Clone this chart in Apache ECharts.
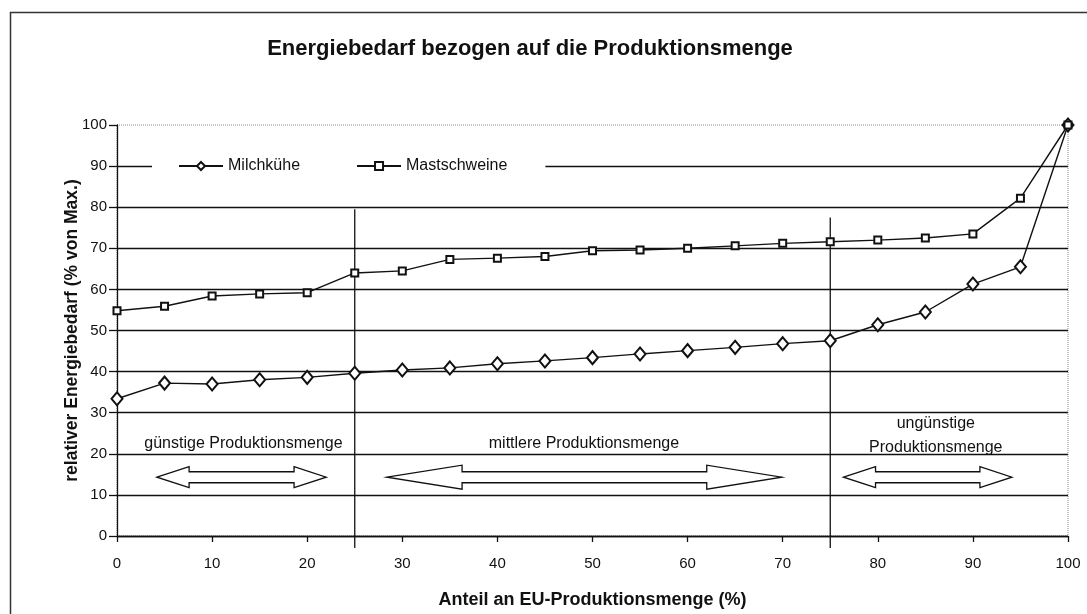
<!DOCTYPE html>
<html>
<head>
<meta charset="utf-8">
<script src="https://cdn.jsdelivr.net/npm/echarts@6/dist/echarts.min.js"></script>
<style>
html,body{margin:0;padding:0;background:#fff;overflow:hidden;}
#main{width:1087px;height:614px;}
</style>
</head>
<body>
<div id="main"></div>
<script>
// ---- data ----
var xValues = [0,5,10,15,20,25,30,35,40,45,50,55,60,65,70,75,80,85,90,95,100];
var milchkuehe = [33.4,37.2,37.0,38.0,38.6,39.6,40.4,40.9,41.9,42.6,43.4,44.3,45.1,45.9,46.8,47.5,51.4,54.5,61.3,65.5,100];
var mastschweine = [54.8,55.9,58.4,58.9,59.2,64.0,64.5,67.3,67.6,68.0,69.4,69.6,70.0,70.6,71.2,71.6,72.0,72.5,73.5,82.2,100];
var seriesNames = ['Milchkühe','Mastschweine'];
var titleText = 'Energiebedarf bezogen auf die Produktionsmenge';
var xAxisName = 'Anteil an EU-Produktionsmenge (%)';
var yAxisName = 'relativer Energiebedarf (% von Max.)';
// zone separators (x value, top y value)
var separators = [[25, 79.5], [75, 77.5]];
// double arrows: [x start, x end, y]
var arrows = [[4.2, 22.0, 14.3], [28.4, 69.9, 14.3], [76.4, 94.1, 14.3]];
var zoneLabels = [
  ['günstige Produktionsmenge', 13.3, 22.6],
  ['mittlere Produktionsmenge', 49.1, 22.6],
  ['ungünstige', 86.1, 27.3],
  ['Produktionsmenge', 86.1, 21.6]
];

var FONT = 'Liberation Sans, Arial, sans-serif';
var chart = echarts.init(document.getElementById('main'), null, {renderer:'canvas', width:1087, height:614});

function pairs(xs, ys){ return xs.map(function(x,i){ return [x, ys[i]]; }); }

chart.setOption({
  animation: false,
  backgroundColor: '#fff',
  title: {
    text: titleText, left: 525, top: 33, textAlign: 'center',
    textStyle: {fontFamily: FONT, fontSize: 22, fontWeight: 'bold', color: '#111'}
  },
  legend: {
    left: 152, top: 155,
    padding: [3, 38, 3, 26],
    backgroundColor: '#fff',
    itemGap: 56, itemWidth: 44, itemHeight: 10,
    textStyle: {fontFamily: FONT, fontSize: 16, color: '#111'},
    data: seriesNames
  },
  grid: {
    left: 117, width: 951, top: 125, height: 425,
    show: true, borderColor: '#888', borderWidth: 1, borderType: 'dotted',
    containLabel: false
  },
  xAxis: {
    type: 'value', min: 0, max: 100, interval: 10,
    name: xAxisName, nameLocation: 'middle', nameGap: 55, nameMoveOverlap: false,
    nameTextStyle: {fontFamily: FONT, fontSize: 18, fontWeight: 'bold', color: '#111'},
    axisLine: {show: true, lineStyle: {color: '#111', width: 1.3}},
    axisTick: {show: true, length: 6, lineStyle: {color: '#111', width: 1.3}},
    axisLabel: {fontFamily: FONT, fontSize: 15, color: '#111', margin: 20},
    splitLine: {show: false}
  },
  yAxis: {
    type: 'value', min: 0, max: 100, interval: 10,
    name: yAxisName, nameLocation: 'middle', nameGap: 36, nameMoveOverlap: false,
    nameTextStyle: {fontFamily: FONT, fontSize: 17.5, fontWeight: 'bold', color: '#111'},
    axisLine: {show: true, lineStyle: {color: '#111', width: 1.3}},
    axisTick: {show: true, length: 8, lineStyle: {color: '#111', width: 1.3}},
    axisLabel: {fontFamily: FONT, fontSize: 15, color: '#111', margin: 10},
    splitLine: {show: true, showMaxLine: false, lineStyle: {color: '#111', width: 1.3}}
  },
  series: [
    {
      name: seriesNames[0], type: 'line', data: pairs(xValues, milchkuehe),
      symbol: 'emptyDiamond', symbolSize: [11, 13],
      lineStyle: {color: '#111', width: 1.4},
      itemStyle: {color: '#111', borderWidth: 1.6},
      z: 5
    },
    {
      name: seriesNames[1], type: 'line', data: pairs(xValues, mastschweine),
      symbol: 'emptyRect', symbolSize: 7,
      lineStyle: {color: '#111', width: 1.4},
      itemStyle: {color: '#111', borderWidth: 1.2},
      z: 5
    }
  ]
});

function px(x, y){ return chart.convertToPixel({gridIndex: 0}, [x, y]); }

var graphics = [];
// outer frame
graphics.push({type:'rect', left: 8, top: 10, shape:{x:0,y:0,width:1095,height:620},
  style:{fill:'none', stroke:'#333', lineWidth:1.5}, z: 0, silent:true});

separators.forEach(function(s){
  var a = px(s[0], s[1]), b = px(s[0], 0);
  graphics.push({type:'line', shape:{x1:a[0], y1:a[1], x2:b[0], y2:b[1] + 12},
    style:{stroke:'#111', lineWidth:1.3}, z: 3, silent:true});
});

arrows.forEach(function(ar){
  var p1 = px(ar[0], ar[2]), p2 = px(ar[1], ar[2]);
  var x1 = p1[0], x2 = p2[0], cy = p1[1];
  var len = x2 - x1;
  var head = Math.min(78, Math.max(31, len * 0.19));
  var hh = len > 300 ? 12 : 10.5;
  var sh = 5.5;
  var pts = [
    [x1, cy], [x1 + head, cy - hh], [x1 + head, cy - sh], [x2 - head, cy - sh],
    [x2 - head, cy - hh], [x2, cy], [x2 - head, cy + hh], [x2 - head, cy + sh],
    [x1 + head, cy + sh], [x1 + head, cy + hh]
  ];
  graphics.push({type:'polygon', shape:{points: pts},
    style:{fill:'#fff', stroke:'#111', lineWidth:1.3}, z: 6, silent:true});
});

zoneLabels.forEach(function(l){
  var p = px(l[1], l[2]);
  graphics.push({type:'text', x: p[0], y: p[1],
    style:{text: l[0], fill:'#111', font: '16px ' + FONT, align:'center', verticalAlign:'middle'},
    z: 6, silent:true});
});

chart.setOption({graphic: graphics});
</script>
</body>
</html>
